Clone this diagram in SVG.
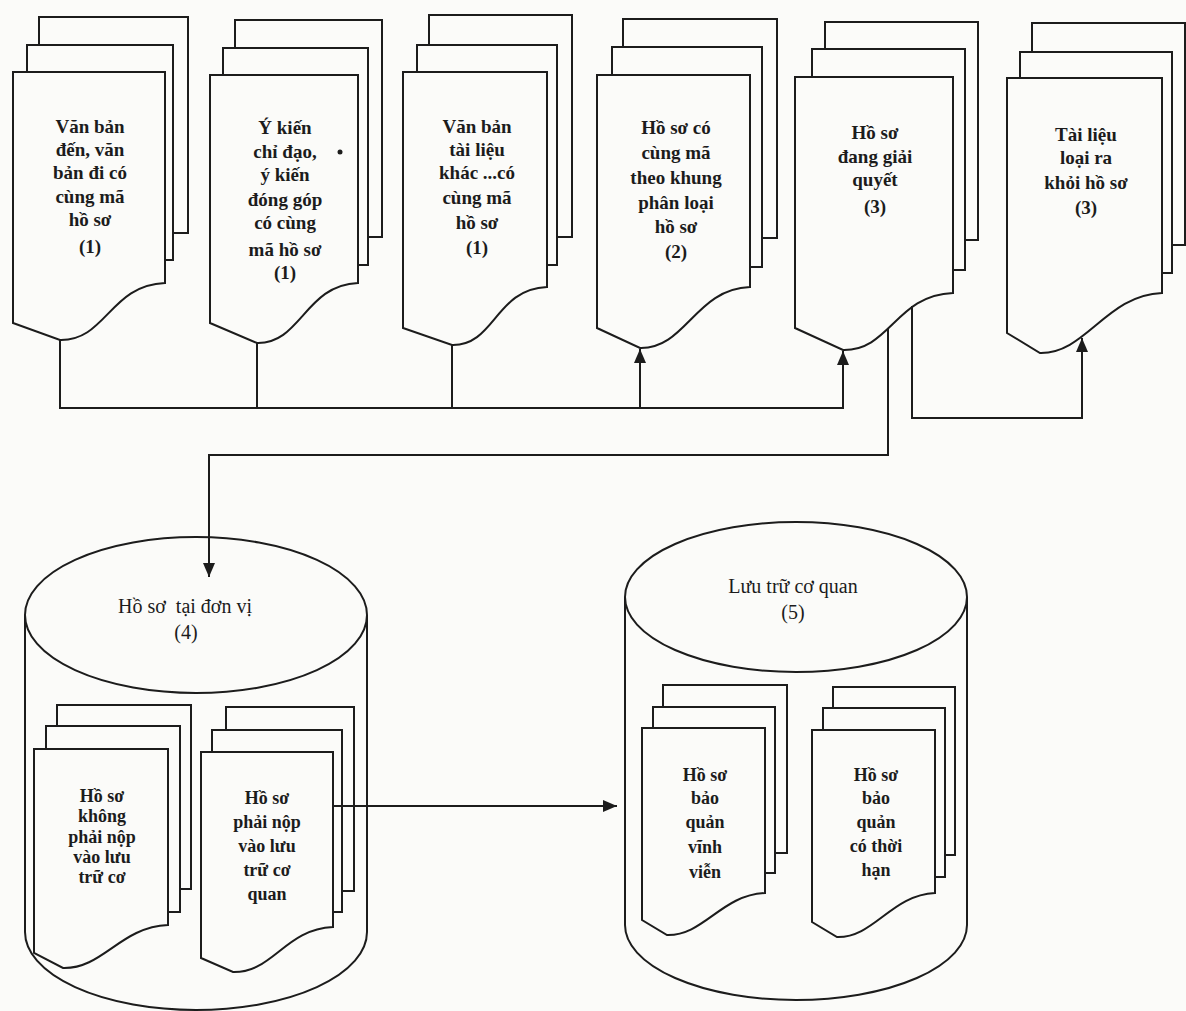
<svg xmlns="http://www.w3.org/2000/svg" width="1186" height="1011" viewBox="0 0 1186 1011">
<style>
.sh{fill:#fbfbf9;stroke:#1c1c1c;stroke-width:2}
.ln{fill:none;stroke:#1c1c1c;stroke-width:2}
.t{font-family:"Liberation Serif","Times New Roman",serif;font-size:19px;font-weight:bold;fill:#1c1c1c;text-anchor:middle}
.c{font-family:"Liberation Serif","Times New Roman",serif;font-size:20px;fill:#1c1c1c;text-anchor:middle}
</style>
<defs>
<marker id="ah" viewBox="0 0 14 12" refX="14" refY="6" markerWidth="14" markerHeight="12" orient="auto" markerUnits="userSpaceOnUse"><path d="M0,0 L14,6 L0,12 z" fill="#1c1c1c"/></marker>
</defs>
<rect x="0" y="0" width="1186" height="1011" fill="#fbfbf9"/>

<g id="doc1">
<rect class="sh" x="39" y="17" width="149" height="216"/>
<rect class="sh" x="27" y="45" width="146" height="215"/>
<path class="sh" d="M13,72 H165 V283 C110,285 106,341 60,340 L13,323 Z"/>
<text class="t"><tspan x="90" y="133">Văn bản</tspan><tspan x="90" y="156">đến, văn</tspan><tspan x="90" y="179">bản đi có</tspan><tspan x="90" y="203">cùng mã</tspan><tspan x="90" y="226">hồ sơ</tspan><tspan x="90" y="253">(1)</tspan></text>
</g>

<g id="doc2">
<rect class="sh" x="235" y="20" width="147" height="217"/>
<rect class="sh" x="223" y="48" width="145" height="217"/>
<path class="sh" d="M210,75 H358 V283 C305,285 301,344 257,343 L210,323 Z"/>
<text class="t"><tspan x="285" y="134">Ý kiến</tspan><tspan x="285" y="158">chỉ đạo,</tspan><tspan x="285" y="181">ý kiến</tspan><tspan x="285" y="206">đóng góp</tspan><tspan x="285" y="229">có cùng</tspan><tspan x="285" y="256">mã hồ sơ</tspan><tspan x="285" y="279">(1)</tspan></text>
<circle cx="340" cy="152" r="2.5" fill="#1c1c1c"/>
</g>

<g id="doc3">
<rect class="sh" x="429" y="15" width="143" height="222"/>
<rect class="sh" x="417" y="45" width="140" height="220"/>
<path class="sh" d="M403,72 H547 V287 C495,289 495,346 452,345 L403,328 Z"/>
<text class="t"><tspan x="477" y="133">Văn bản</tspan><tspan x="477" y="156">tài liệu</tspan><tspan x="477" y="179">khác ...có</tspan><tspan x="477" y="204">cùng mã</tspan><tspan x="477" y="229">hồ sơ</tspan><tspan x="477" y="254">(1)</tspan></text>
</g>

<g id="doc4">
<rect class="sh" x="623" y="19" width="154" height="219"/>
<rect class="sh" x="612" y="47" width="150" height="220"/>
<path class="sh" d="M597,75 H750 V287 C695,289 686,349 640,348 L597,328 Z"/>
<text class="t"><tspan x="676" y="134">Hồ sơ có</tspan><tspan x="676" y="159">cùng mã</tspan><tspan x="676" y="184">theo khung</tspan><tspan x="676" y="209">phân loại</tspan><tspan x="676" y="233">hồ sơ</tspan><tspan x="676" y="258">(2)</tspan></text>
</g>

<g id="doc5">
<rect class="sh" x="825" y="22" width="153" height="218"/>
<rect class="sh" x="812" y="49" width="153" height="221"/>
<path class="sh" d="M795,77 H953 V293 C896,295 890,351 843,350 L795,328 Z"/>
<text class="t"><tspan x="875" y="139">Hồ sơ</tspan><tspan x="875" y="163">đang giải</tspan><tspan x="875" y="186">quyết</tspan><tspan x="875" y="213">(3)</tspan></text>
</g>

<g id="doc6">
<rect class="sh" x="1032" y="23" width="153" height="222"/>
<rect class="sh" x="1020" y="52" width="152" height="221"/>
<path class="sh" d="M1007,78 H1162 V293 C1106,295 1086,354 1040,353 L1007,333 Z"/>
<text class="t"><tspan x="1086" y="141">Tài liệu</tspan><tspan x="1086" y="164">loại ra</tspan><tspan x="1086" y="189">khỏi hồ sơ</tspan><tspan x="1086" y="214">(3)</tspan></text>
</g>

<g id="store4">
<path class="sh" d="M25,615 V932 A171,78 0 0 0 367,932 V615"/>
<ellipse class="sh" cx="196" cy="615" rx="171" ry="78"/>
<text class="c" xml:space="preserve"><tspan x="185" y="613">Hồ sơ  tại đơn vị</tspan><tspan x="186" y="639">(4)</tspan></text>
<g id="docA">
<rect class="sh" x="57" y="705" width="134" height="184"/>
<rect class="sh" x="46" y="726" width="134" height="186"/>
<path class="sh" d="M34,749 H168 V925 C120,927 103,969 63,968 L34,953 Z"/>
<text class="t" style="font-size:18px"><tspan x="102" y="802">Hồ sơ</tspan><tspan x="102" y="822">không</tspan><tspan x="102" y="843">phải nộp</tspan><tspan x="102" y="863">vào lưu</tspan><tspan x="102" y="883">trữ cơ</tspan></text>
</g>
<g id="docB">
<rect class="sh" x="226" y="707" width="128" height="184"/>
<rect class="sh" x="212" y="730" width="130" height="182"/>
<path class="sh" d="M201,752 H333 V927 C285,929 273,973 233,972 L201,958 Z"/>
<text class="t" style="font-size:18px"><tspan x="267" y="804">Hồ sơ</tspan><tspan x="267" y="828">phải nộp</tspan><tspan x="267" y="852">vào lưu</tspan><tspan x="267" y="876">trữ cơ</tspan><tspan x="267" y="900">quan</tspan></text>
</g>
</g>

<g id="store5">
<path class="sh" d="M625,597 V925 A171,75 0 0 0 967,925 V597"/>
<ellipse class="sh" cx="796" cy="597" rx="171" ry="75"/>
<text class="c"><tspan x="793" y="593">Lưu trữ cơ quan</tspan><tspan x="793" y="619">(5)</tspan></text>
<g id="docC">
<rect class="sh" x="663" y="685" width="124" height="168"/>
<rect class="sh" x="653" y="707" width="122" height="166"/>
<path class="sh" d="M642,728 H765 V893 C721,895 704,936 667,935 L642,920 Z"/>
<text class="t" style="font-size:18px"><tspan x="705" y="781">Hồ sơ</tspan><tspan x="705" y="804">bảo</tspan><tspan x="705" y="828">quản</tspan><tspan x="705" y="853">vĩnh</tspan><tspan x="705" y="878">viễn</tspan></text>
</g>
<g id="docD">
<rect class="sh" x="833" y="687" width="122" height="168"/>
<rect class="sh" x="823" y="708" width="122" height="169"/>
<path class="sh" d="M812,730 H935 V893 C891,895 874,938 837,937 L812,922 Z"/>
<text class="t" style="font-size:18px"><tspan x="876" y="781">Hồ sơ</tspan><tspan x="876" y="804">bảo</tspan><tspan x="876" y="828">quản</tspan><tspan x="876" y="852">có thời</tspan><tspan x="876" y="876">hạn</tspan></text>
</g>
</g>

<g id="connectors">
<path class="ln" d="M60,340 V408 H843 V351" marker-end="url(#ah)"/>
<path class="ln" d="M257,343 V408"/>
<path class="ln" d="M452,345 V408"/>
<path class="ln" d="M640,408 V349" marker-end="url(#ah)"/>
<path class="ln" d="M888,328 V455 H209 V577" marker-end="url(#ah)"/>
<path class="ln" d="M912,306 V418 H1082 V338" marker-end="url(#ah)"/>
<path class="ln" d="M333,806 H617" marker-end="url(#ah)"/>
</g>
</svg>
